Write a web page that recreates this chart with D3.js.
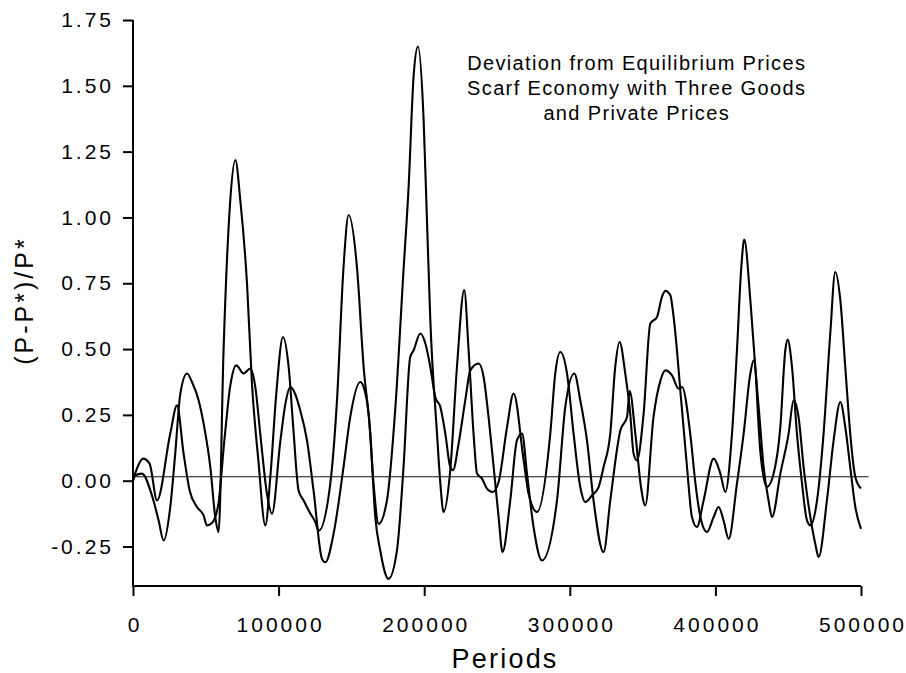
<!DOCTYPE html>
<html>
<head>
<meta charset="utf-8">
<script src="https://cdn.jsdelivr.net/npm/d3@7"></script>
<style>
  html, body { margin: 0; padding: 0; background: #fff; }
  svg { display: block; font-family: "Liberation Sans", Arial, sans-serif; }
</style>
</head>
<body>
<svg id="chart" width="906" height="673"></svg>
<script>
// ---- data ----
const periodsA = [0, 2700, 6870, 11400, 16500, 25600, 30200, 34750, 38900, 43950, 48500, 50800, 54250, 58600, 62700, 66800, 70950, 75950, 80550, 84000, 87400, 92000, 95450, 101200, 104600, 108000, 114900, 119500, 124000, 129800, 132100, 137800, 144600, 149200, 156100, 158400, 161800, 165200, 168700, 174400, 180100, 185800, 189300, 192700, 195700, 199600, 201900, 204200, 208800, 211100, 213300, 217900, 222500, 227500, 230500, 233900, 236300, 239700, 243100, 247000, 251100, 256900, 261400, 268300, 271700, 277500, 286600, 290000, 293500, 298100, 302600, 307200, 310600, 315200, 319800, 323200, 327800, 331200, 334200, 338100, 341500, 343800, 346100, 350700, 355300, 359900, 363300, 365600, 369000, 371300, 373600, 375900, 380500, 383900, 387300, 391900, 398800, 403400, 406800, 411400, 414800, 417800, 419800, 424000, 427400, 430800, 433100, 435400, 440000, 444600, 448000, 449600, 452600, 456000, 459500, 462900, 465200, 469800, 474300, 478900, 482300, 485800, 489200, 492600, 496100, 500000];
const valuesA = [0.00, 0.046, 0.084, 0.065, -0.075, 0.179, 0.286, 0.103, -0.037, -0.10, -0.132, -0.17, -0.161, -0.09, 0.15, 0.36, 0.438, 0.407, 0.426, 0.356, 0.179, -0.05, -0.125, 0.15, 0.29, 0.356, 0.267, 0.153, -0.037, -0.297, -0.31, -0.20, 0.052, 0.242, 0.375, 0.356, 0.255, -0.011, -0.164, -0.075, 0.27, 0.80, 1.116, 1.535, 1.649, 1.37, 0.99, 0.61, 0.179, -0.011, -0.119, 0.04, 0.432, 0.724, 0.495, 0.179, 0.027, 0.008, -0.03, -0.043, -0.005, 0.204, 0.331, 0.077, -0.05, -0.119, 0.179, 0.407, 0.489, 0.407, 0.179, -0.024, -0.081, -0.056, -0.024, 0.052, 0.179, 0.432, 0.527, 0.407, 0.255, 0.103, 0.077, 0.255, 0.597, 0.622, 0.698, 0.721, 0.705, 0.622, 0.495, 0.343, 0.052, -0.138, -0.176, -0.075, 0.084, 0.027, -0.043, 0.179, 0.495, 0.812, 0.916, 0.686, 0.432, 0.115, 0.014, -0.024, 0.027, 0.204, 0.495, 0.536, 0.432, 0.179, -0.011, -0.151, -0.17, -0.075, 0.179, 0.559, 0.793, 0.686, 0.432, 0.179, 0.014, -0.03];

const periodsB = [0, 1600, 6200, 13000, 17600, 21000, 25600, 29000, 32500, 37100, 40500, 45100, 48500, 53100, 56500, 58800, 62200, 66800, 70300, 73700, 78300, 81700, 86060, 90900, 94400, 98400, 103000, 106900, 110100, 113700, 117200, 121800, 125200, 127500, 135500, 140100, 144600, 148100, 153800, 158400, 163000, 166400, 169800, 175500, 181300, 185800, 190400, 192700, 197300, 200800, 204200, 207600, 211100, 214500, 217900, 219800, 223600, 228200, 231700, 237400, 240800, 244200, 247700, 251100, 253800, 259100, 263700, 267200, 270600, 275100, 280900, 291200, 296900, 303100, 307200, 311800, 316300, 323200, 327800, 334700, 339300, 341100, 345000, 348900, 351800, 357500, 362300, 365600, 370200, 374700, 377100, 382700, 386300, 389700, 394200, 398800, 402200, 405600, 409100, 414800, 419400, 424000, 426300, 429700, 433100, 436500, 438900, 444600, 450300, 453700, 457100, 460600, 465200, 468600, 470900, 476600, 481200, 485800, 489200, 492600, 496100, 500000];
const valuesB = [0.0, 0.02, 0.027, -0.056, -0.151, -0.227, -0.10, 0.103, 0.33, 0.407, 0.375, 0.305, 0.217, 0.052, -0.138, -0.195, 0.496, 1.065, 1.218, 1.065, 0.749, 0.369, 0.08, -0.17, 0.02, 0.33, 0.546, 0.432, 0.2, -0.037, -0.075, -0.125, -0.157, -0.19, -0.011, 0.305, 0.812, 1.009, 0.812, 0.432, 0.179, -0.138, -0.265, -0.373, -0.265, 0.052, 0.47, 0.495, 0.559, 0.521, 0.432, 0.318, 0.28, 0.179, 0.052, 0.04, 0.14, 0.305, 0.419, 0.445, 0.394, 0.242, 0.052, -0.138, -0.271, -0.075, 0.153, 0.179, 0.027, -0.176, -0.303, -0.075, 0.28, 0.407, 0.305, 0.153, -0.075, -0.271, -0.075, 0.191, 0.242, 0.341, 0.179, -0.024, -0.094, 0.242, 0.381, 0.419, 0.40, 0.35, 0.356, 0.179, -0.011, -0.138, -0.195, -0.138, -0.10, -0.151, -0.221, -0.011, 0.179, 0.407, 0.457, 0.28, 0.052, -0.075, -0.138, 0.027, 0.179, 0.305, 0.242, 0.052, -0.138, -0.24, -0.29, -0.075, 0.153, 0.299, 0.204, 0.052, -0.10, -0.183];

const refLinePeriods = [0, 505200];
const refLineValue = 0.015;

const xTicks = [0, 100000, 200000, 300000, 400000, 500000];
const xTickLabels = ["0", "100000", "200000", "300000", "400000", "500000"];
const yTicks = [-0.25, 0, 0.25, 0.5, 0.75, 1.0, 1.25, 1.5, 1.75];
const yTickLabels = ["-0.25", "0.00", "0.25", "0.50", "0.75", "1.00", "1.25", "1.50", "1.75"];

const titleLines = ["Deviation from Equilibrium Prices", "Scarf Economy with Three Goods", "and Private Prices"];
const xTitle = "Periods";
const yTitle = "(P-P*)/P*";

// ---- layout ----
const svg = d3.select("#chart");
const plotL = 133, plotR = 861, plotT = 20, plotB = 586;

const x = d3.scaleLinear().domain([0, 500000]).range([plotL, plotR]);
const y = d3.scaleLinear().domain([-0.40, 1.75]).range([plotB, plotT]);

svg.append("rect").attr("width", 906).attr("height", 673).attr("fill", "#fff");

// reference line
svg.append("line")
  .attr("x1", x(refLinePeriods[0])).attr("x2", x(refLinePeriods[1]))
  .attr("y1", y(refLineValue)).attr("y2", y(refLineValue))
  .attr("stroke", "#111").attr("stroke-width", 1.1);

// series
const lineGen = d3.line().curve(d3.curveMonotoneX);
function drawSeries(periods, values) {
  const pts = periods.map((p, i) => [x(p), y(values[i])]);
  svg.append("path")
    .attr("d", lineGen(pts))
    .attr("fill", "none")
    .attr("stroke", "#000")
    .attr("stroke-width", 2.1)
    .attr("stroke-linejoin", "round");
}
drawSeries(periodsA, valuesA);
drawSeries(periodsB, valuesB);

// axes
const tickFont = 21, tickLS = 3;
const xAxis = d3.axisBottom(x).tickValues(xTicks)
  .tickFormat((d, i) => xTickLabels[i]).tickSize(10).tickSizeOuter(0).tickPadding(21);
const gx = svg.append("g").attr("transform", `translate(0,${plotB})`).call(xAxis);
const yAxis = d3.axisLeft(y).tickValues(yTicks)
  .tickFormat((d, i) => yTickLabels[i]).tickSize(10).tickSizeOuter(0).tickPadding(12);
const gy = svg.append("g").attr("transform", `translate(${plotL},0)`).call(yAxis);

[gx, gy].forEach(g => {
  g.selectAll("path.domain").attr("stroke", "#000").attr("stroke-width", 2);
  g.selectAll(".tick line").attr("stroke", "#000").attr("stroke-width", 2);
  g.selectAll(".tick text")
    .attr("font-family", '"Liberation Sans", Arial, sans-serif')
    .attr("font-size", tickFont)
    .attr("letter-spacing", tickLS)
    .attr("fill", "#000");
});
gx.selectAll(".tick text").attr("dx", tickLS / 2);
gy.selectAll(".tick text").attr("dx", tickLS);
gy.select("path.domain").attr("d", `M0,${plotT}V${plotB}`);
gx.select("path.domain").attr("d", `M${plotL - 1},0H${plotR}`);

// axis titles
svg.append("text")
  .attr("x", 504 + 1.1).attr("y", 668)
  .attr("text-anchor", "middle")
  .attr("font-size", 27).attr("letter-spacing", 2.2)
  .attr("fill", "#000")
  .text(xTitle);

svg.append("text")
  .attr("transform", "translate(33,302) rotate(-90)")
  .attr("dx", 1.5)
  .attr("text-anchor", "middle")
  .attr("font-size", 25).attr("letter-spacing", 3)
  .attr("fill", "#000")
  .text(yTitle);

// annotation
const ann = svg.append("text")
  .attr("text-anchor", "middle")
  .attr("font-size", 20).attr("letter-spacing", 1.35)
  .attr("fill", "#000");
titleLines.forEach((t, i) => {
  ann.append("tspan").attr("x", 636 + 0.7).attr("y", 70 + i * 25).text(t);
});
</script>
</body>
</html>
